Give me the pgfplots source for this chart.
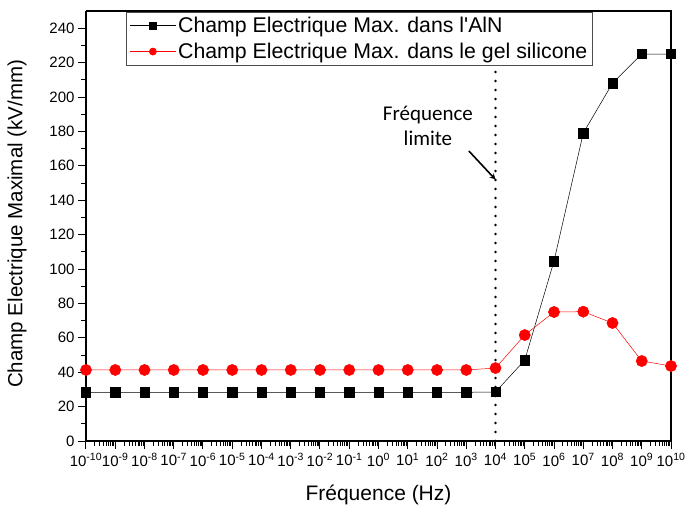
\documentclass[border=0pt]{standalone}
\usepackage{fontspec}
\setmainfont{Liberation Sans}
\newfontfamily\calibri{Carlito}
\usepackage{pgfplots}
\pgfplotsset{compat=1.18}
\begin{document}
\begin{tikzpicture}
\useasboundingbox (-86pt,-71pt) rectangle (601pt,441pt);
\begin{axis}[
  at={(0pt,0pt)}, anchor=south west,
  scale only axis, width=585pt, height=430pt,
  xmode=log, log basis x=10,
  xmin=1e-10, xmax=1e10,
  ymin=0, ymax=250,
  xtickten={-10,...,10},
  minor xtick={
  2e-10,3e-10,4e-10,5e-10,6e-10,7e-10,8e-10,9e-10,
  2e-9,3e-9,4e-9,5e-9,6e-9,7e-9,8e-9,9e-9,
  2e-8,3e-8,4e-8,5e-8,6e-8,7e-8,8e-8,9e-8,
  2e-7,3e-7,4e-7,5e-7,6e-7,7e-7,8e-7,9e-7,
  2e-6,3e-6,4e-6,5e-6,6e-6,7e-6,8e-6,9e-6,
  2e-5,3e-5,4e-5,5e-5,6e-5,7e-5,8e-5,9e-5,
  2e-4,3e-4,4e-4,5e-4,6e-4,7e-4,8e-4,9e-4,
  2e-3,3e-3,4e-3,5e-3,6e-3,7e-3,8e-3,9e-3,
  2e-2,3e-2,4e-2,5e-2,6e-2,7e-2,8e-2,9e-2,
  2e-1,3e-1,4e-1,5e-1,6e-1,7e-1,8e-1,9e-1,
  2e0,3e0,4e0,5e0,6e0,7e0,8e0,9e0,
  2e1,3e1,4e1,5e1,6e1,7e1,8e1,9e1,
  2e2,3e2,4e2,5e2,6e2,7e2,8e2,9e2,
  2e3,3e3,4e3,5e3,6e3,7e3,8e3,9e3,
  2e4,3e4,4e4,5e4,6e4,7e4,8e4,9e4,
  2e5,3e5,4e5,5e5,6e5,7e5,8e5,9e5,
  2e6,3e6,4e6,5e6,6e6,7e6,8e6,9e6,
  2e7,3e7,4e7,5e7,6e7,7e7,8e7,9e7,
  2e8,3e8,4e8,5e8,6e8,7e8,8e8,9e8,
  2e9,3e9,4e9,5e9,6e9,7e9,8e9,9e9},
  ytick={0,20,...,240},
  minor y tick num=1,
  axis x line*=bottom, axis y line*=left,
  axis line style={line width=1.2pt, -},
  tick align=outside,
  major tick length=8pt, minor tick length=5pt,
  every tick/.style={black, line width=1pt},
  /pgf/number format/assume math mode=true,
  xticklabel={10\textsuperscript{\pgfmathparse{int(round(\tick))}\pgfmathresult}},
  ticklabel style={font=\fontsize{15}{18}\selectfont},
  xticklabel style={font=\fontsize{15}{17}\selectfont, yshift=-1pt},
  xlabel={Fréquence (Hz)},
  ylabel={Champ Electrique Maximal (kV/mm)},
  xlabel style={font=\fontsize{21}{24}\selectfont, at={(axis description cs:0.5,-0.1256)}, anchor=center},
  ylabel style={font=\fontsize{20.5}{24}\selectfont, at={(axis description cs:-0.118,0.505)}, anchor=center},
  legend style={at={(0.069,0.998)}, anchor=north west, draw=black!70, line width=0.6pt,
    font=\fontsize{21.3}{24}\selectfont, row sep=5pt, inner sep=3pt},
  legend cell align=left,
  legend image code/.code={\draw[mark repeat=2,mark phase=2,mark size=3.6pt] plot coordinates {(0pt,0pt)(23pt,0pt)(46pt,0pt)};},
  clip=false,
]
\addplot[black, line width=0.5pt, mark=square*, mark size=4.7pt, mark options={solid}] coordinates {
(1e-10,28.3)(1e-9,28.3)(1e-8,28.3)(1e-7,28.3)(1e-6,28.3)(1e-5,28.3)(1e-4,28.3)(1e-3,28.3)(1e-2,28.3)(1e-1,28.3)(1,28.3)(1e1,28.3)(1e2,28.3)(1e3,28.3)(1e4,28.5)(1e5,47)(1e6,104.6)(1e7,179)(1e8,208)(1e9,225)(1e10,225)};
\addlegendentry{Champ Electrique Max. dans l\textquotesingle AlN}
\addplot[red, line width=0.5pt, mark=*, mark size=5.6pt, mark options={solid, fill=red, draw=red}] coordinates {
(1e-10,41.3)(1e-9,41.3)(1e-8,41.3)(1e-7,41.3)(1e-6,41.3)(1e-5,41.3)(1e-4,41.3)(1e-3,41.3)(1e-2,41.3)(1e-1,41.3)(1,41.3)(1e1,41.3)(1e2,41.3)(1e3,41.3)(1e4,42.4)(1e5,61.6)(1e6,75)(1e7,75.2)(1e8,68.6)(1e9,46.5)(1e10,43.6)};
\addlegendentry{Champ Electrique Max. dans le gel silicone}
\addplot[black, line width=2.6pt, line cap=round, dash pattern=on 0pt off 9pt, forget plot] coordinates {(1e4,0)(1e4,250)};
\draw[line width=1.2pt] (rel axis cs:0,1) -- (rel axis cs:1,1) -- (rel axis cs:1,0);
\node[font=\calibri\fontsize{21}{25}\selectfont, align=center] at (axis cs:49,183) {Fréquence\\limite};
\draw[-stealth, line width=1.6pt] (axis cs:1230,168.6) -- (axis cs:1e4,152);
\end{axis}
\end{tikzpicture}
\end{document}
